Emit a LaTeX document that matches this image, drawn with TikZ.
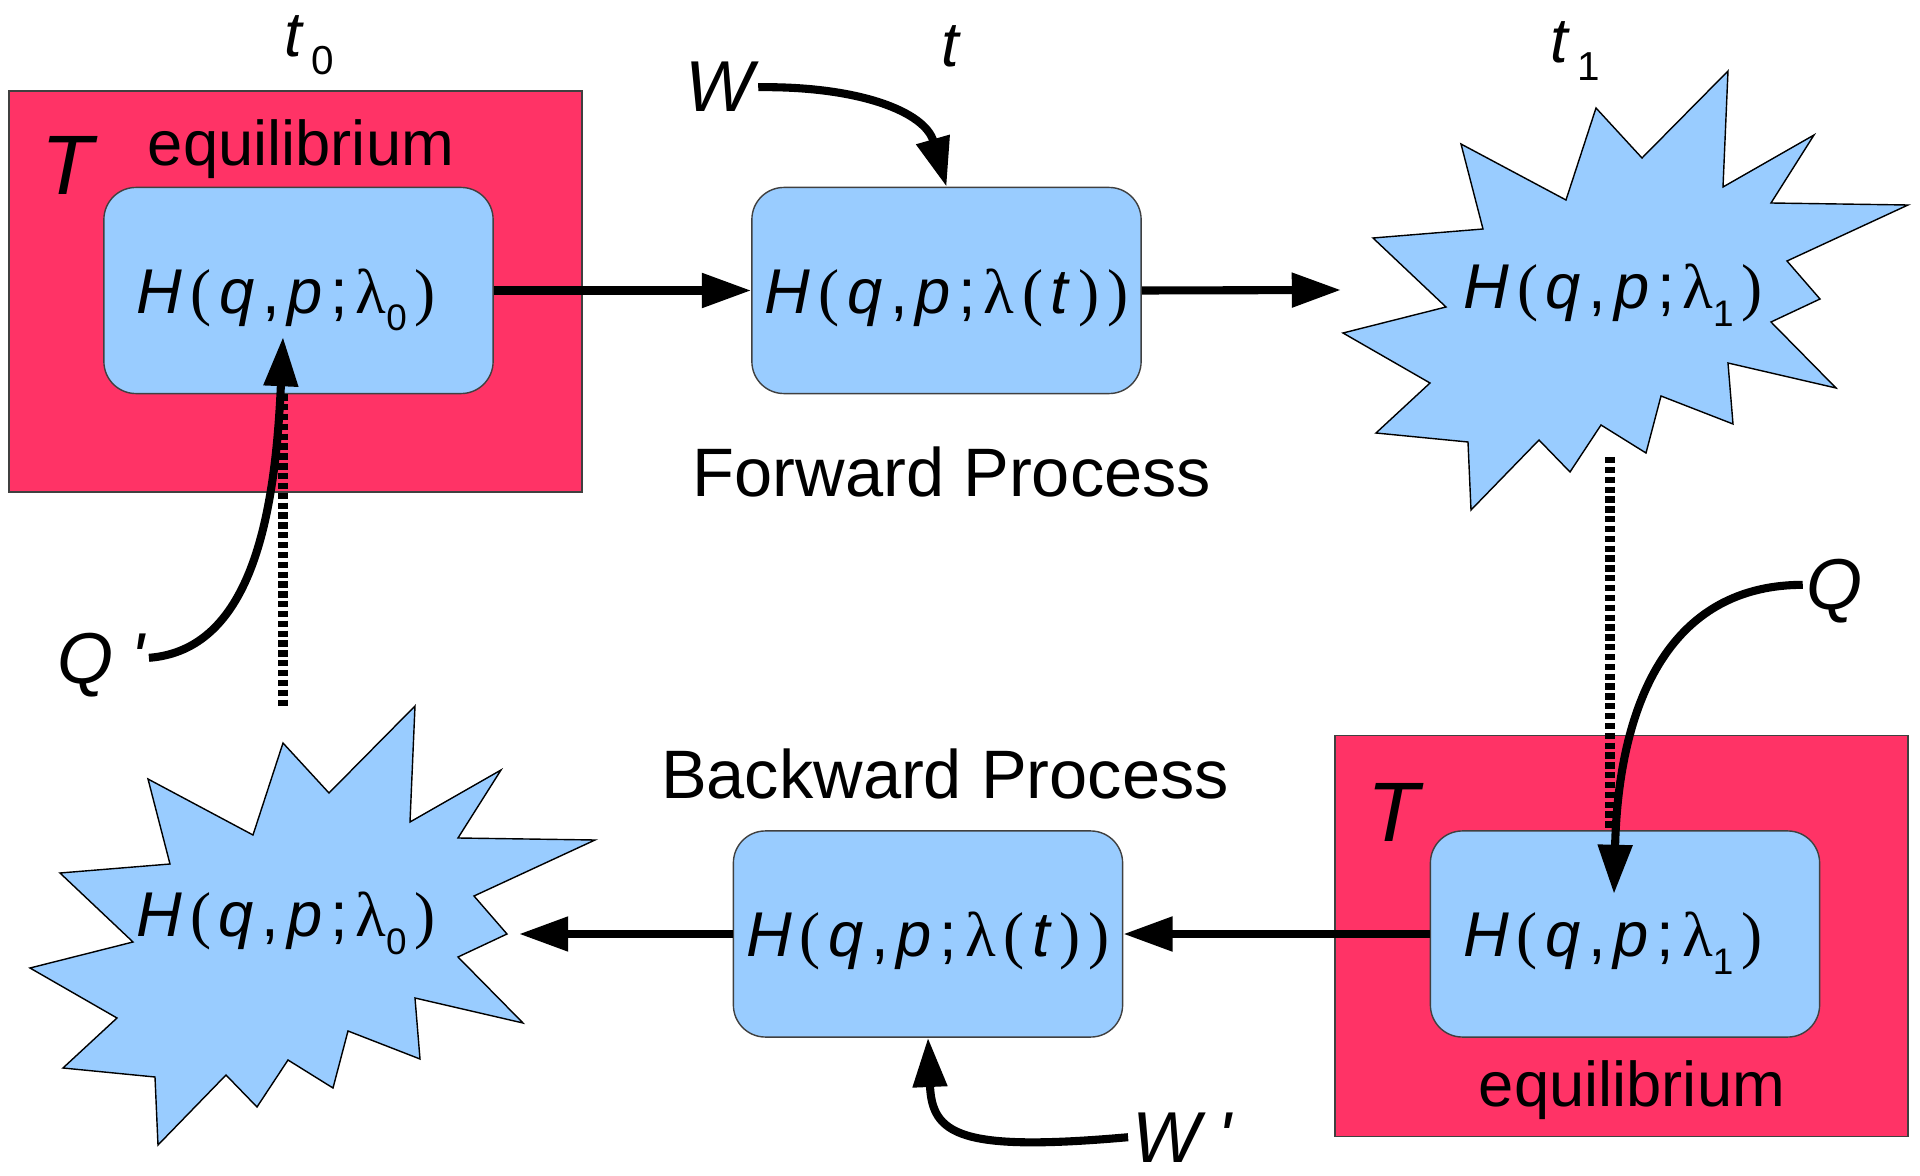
\documentclass[tikz,border=0pt]{standalone}
\usepackage{fontspec}
\setmainfont{Liberation Sans}
\newfontfamily\lamfont{Liberation Serif}
\usetikzlibrary{arrows.meta}

\definecolor{bathred}{RGB}{255,51,102}
\definecolor{sysblue}{RGB}{153,204,255}

\newcommand{\gp}{\kern2.2pt}
\newcommand{\hsub}[1]{\textit{H}\gp{\lamfont(}\gp\textit{q}\gp,\gp\textit{p}\gp;\gp{\lamfont λ}\raisebox{-5pt}{\fontsize{10.5}{12}\selectfont #1}\gp{\lamfont)}}
\newcommand{\hlam}{\textit{H}\gp{\lamfont(}\gp\textit{q}\gp,\gp\textit{p}\gp;\gp{\lamfont λ}\gp{\lamfont(}\gp\textit{t}\gp{\lamfont)}\gp{\lamfont)}}
\newcommand{\tsub}[1]{\textit{t}\kern2pt\raisebox{-5pt}{\fontsize{11.5}{13}\selectfont #1}}

\tikzset{starburst/.pic={
	\draw[draw=black, fill=sysblue, line width=0.4pt]
		(115,-219) -- (110,-103) -- (201,-155) -- (158,-87) -- (295,-85) -- (174,-29) --
		(207,9) -- (158,32) -- (223,98) -- (115,73) -- (120,134) -- (48,106) --
		(33,163) -- (-12,135) -- (-43,182) -- (-74,150) -- (-142,220) -- (-145,152) --
		(-237,143) -- (-183,93) -- (-270,43) -- (-167,17) -- (-240,-52) -- (-130,-61) --
		(-152,-146) -- (-47,-90) -- (-17,-182) -- (29,-132) -- cycle;
}}

\begin{document}
\begin{tikzpicture}[x=0.01cm, y=-0.01cm,
				>={Triangle[length=14pt,width=9.4pt]},
				bath/.style={draw=black!75, fill=bathred, line width=0.4pt, minimum width=5.73cm, minimum height=4.01cm, inner sep=0pt},
				hbox/.style={draw=black!75, fill=sysblue, line width=0.4pt, rounded corners=0.32cm, minimum width=3.89cm, minimum height=2.06cm, inner sep=0pt, font=\fontsize{18}{21}\selectfont, text height=12.9pt, text depth=0pt},
				ham/.style={inner sep=0pt, font=\fontsize{18}{21}\selectfont, text height=12.9pt, text depth=0pt},
				quant/.style={inner sep=1pt, font=\fontsize{20.5}{24}\selectfont\itshape, text depth=0pt},
				bigT/.style={inner sep=0pt, font=\fontsize{24}{28}\selectfont\itshape},
				tlbl/.style={inner sep=0pt, font=\fontsize{18}{21}\selectfont},
				word/.style={inner sep=0pt, font=\fontsize{18}{21}\selectfont},
				proc/.style={inner sep=0pt, font=\fontsize{19.5}{23}\selectfont},
				flow/.style={->, line width=2.3pt},
				link/.style={line width=2.6pt, dash pattern=on 1.8pt off 1pt}]
\useasboundingbox (0,0) rectangle (1920,1176);

% heat baths
\node[bath] (bath0) at (295.5,291.5) {};
\node[bath] (bath1) at (1621.5,936) {};
\node[bigT, anchor=base] (T0) at (67,195) {T};
\node[bigT, anchor=base] (T1) at (1393,841) {T};
\node[word, anchor=base] (eq0) at (301,166) {equilibrium};
\node[word, anchor=base] (eq1) at (1632,1106) {equilibrium};

% systems
\node[hbox] (b1) at (298.5,290.5) {\hsub{0}\kern7pt};
\node[hbox] (b2) at (946.5,290.5) {\hlam};
\node[hbox] (b3) at (928,934) {\hlam};
\node[hbox] (b4) at (1625,934) {\hsub{1}\kern7pt};
\pic (burst1) at (1613,290) {starburst};
\pic (burst0) at (300,925) {starburst};
\node[ham] (s1) at (1613,286) {\hsub{1}};
\node[ham] (s0) at (286,914) {\hsub{0}};

% labels
\node[tlbl, anchor=base] (t0) at (309,57) {\tsub{0}};
\node[tlbl, anchor=base] (tt) at (951,67) {\textit{t}};
\node[tlbl, anchor=base] (t1) at (1575,63) {\tsub{1}};
\node[proc, anchor=base] (fwd) at (952,497) {Forward Process};
\node[proc, anchor=base] (bwd) at (945,798) {Backward Process};
\node[quant, anchor=base] (W) at (720,112) {W};
\node[quant, anchor=base] (Wp) at (1182,1162) {W\kern5pt\textquotesingle};
\node[quant, anchor=base] (Q) at (1835,610) {Q};
\node[quant, anchor=base] (Qp) at (101,683) {Q\kern5pt\textquotesingle};

\coordinate (s1in) at (1341,290);
\coordinate (s0in) at (519,934);
\coordinate (qtip) at (1614,894);
\coordinate (qptip) at (283,337);
\coordinate (d1top) at (1610,457);
\coordinate (d0bot) at (283,707);

% processes
\draw[flow] (b1.east) -- (b2.west);
\draw[flow] (b2.east) -- (s1in);
\draw[flow] (b4.west) -- (b3.east);
\draw[flow] (b3.west) -- (s0in);

% work and heat
\draw[flow] (W.east) .. controls (860,86) and (925,112) .. (b2.north);
\draw[flow] (Wp.west) .. controls (960,1152) and (932,1135) .. (b3.south);
\draw[flow] (Q.west) .. controls (1660,585) and (1618,720) .. (qtip);
\draw[flow] (Qp.east) .. controls (250,650) and (275,520) .. (qptip);

% relaxation
\draw[link] (d1top) -- (d1top |- b4.north);
\draw[link] (d0bot |- b1.south) -- (d0bot);
\end{tikzpicture}
\end{document}
